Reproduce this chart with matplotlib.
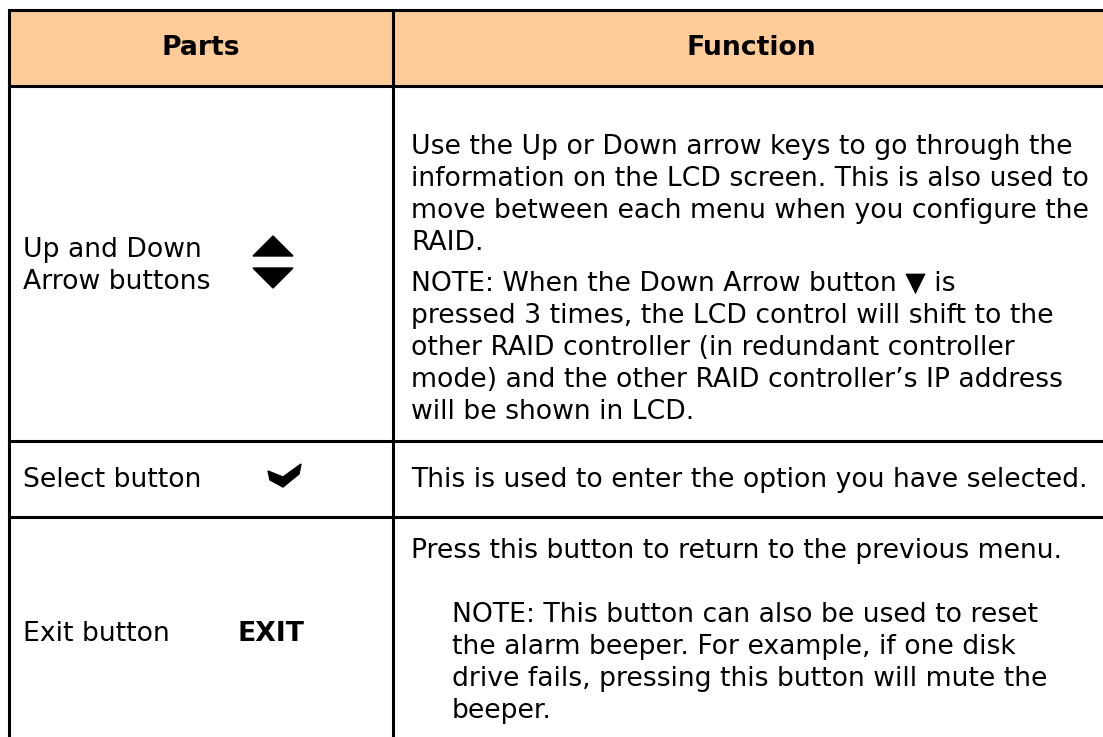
import matplotlib.pyplot as plt
from matplotlib.patches import Rectangle, Polygon

# ---- table content ----
headers = ["Parts", "Function"]
part_labels = [["Up and Down", "Arrow buttons"], ["Select button"], ["Exit button"]]
function_text = [
    [["Use the Up or Down arrow keys to go through the",
      "information on the LCD screen. This is also used to",
      "move between each menu when you configure the",
      "RAID."],
     ["NOTE: When the Down Arrow button \u25bc is",
      "pressed 3 times, the LCD control will shift to the",
      "other RAID controller (in redundant controller",
      "mode) and the other RAID controller\u2019s IP address",
      "will be shown in LCD."]],
    [["This is used to enter the option you have selected."]],
    [["Press this button to return to the previous menu."],
     ["NOTE: This button can also be used to reset",
      "the alarm beeper. For example, if one disk",
      "drive fails, pressing this button will mute the",
      "beeper."]],
]

# ---- layout (pixels) ----
W, H = 1103, 737
col_edges = [9, 393, 1110]
row_edges = [10, 86, 441, 517, 760]
header_color = "#FFCC99"
lw = 2.2
fs = 19.2
hfs = 19.2
line_h = 32
# baselines of first line of each paragraph, with indent
para_pos = [[(411, 154), (411, 291)], [(411, 487)], [(411, 558), (452, 622)]]
label_pos = [(23, 257), (23, 487), (23, 641)]

fig = plt.figure(figsize=(W / 100, H / 100), dpi=100)
ax = fig.add_axes([0, 0, 1, 1])
ax.set_xlim(0, W)
ax.set_ylim(H, 0)
ax.axis("off")

# header background
ax.add_patch(Rectangle((col_edges[0], row_edges[0]), col_edges[-1] - col_edges[0],
                       row_edges[1] - row_edges[0], facecolor=header_color, edgecolor="none"))

# grid lines
for y in row_edges[:-1]:
    ax.plot([col_edges[0], col_edges[-1]], [y, y], color="black", lw=lw, solid_capstyle="projecting")
for x in col_edges:
    ax.plot([x, x], [row_edges[0], row_edges[-1]], color="black", lw=lw, solid_capstyle="projecting")

# header text
hy = (row_edges[0] + row_edges[1]) / 2
for i, h in enumerate(headers):
    cx = (col_edges[i] + col_edges[i + 1]) / 2
    ax.text(cx, hy, h, ha="center", va="center", fontsize=hfs, fontweight="bold")

# parts column
for lines, (x, y) in zip(part_labels, label_pos):
    for k, line in enumerate(lines):
        ax.text(x, y + k * line_h, line, ha="left", va="baseline", fontsize=fs)

# function column
for paras, positions in zip(function_text, para_pos):
    for lines, (x, y) in zip(paras, positions):
        for k, line in enumerate(lines):
            ax.text(x, y + k * line_h, line, ha="left", va="baseline", fontsize=fs)

# icons
ax.add_patch(Polygon([(253, 256), (293, 256), (273, 236)], closed=True, color="black"))
ax.add_patch(Polygon([(253, 268), (293, 268), (273, 288)], closed=True, color="black"))
ax.add_patch(Polygon([(268, 471), (283, 477), (301, 464), (299, 474), (283, 487), (270, 480)],
                     closed=True, color="black"))
ax.text(238, 641, "EXIT", ha="left", va="baseline", fontsize=fs, fontweight="bold")

fig.savefig("out.png", dpi=100)
